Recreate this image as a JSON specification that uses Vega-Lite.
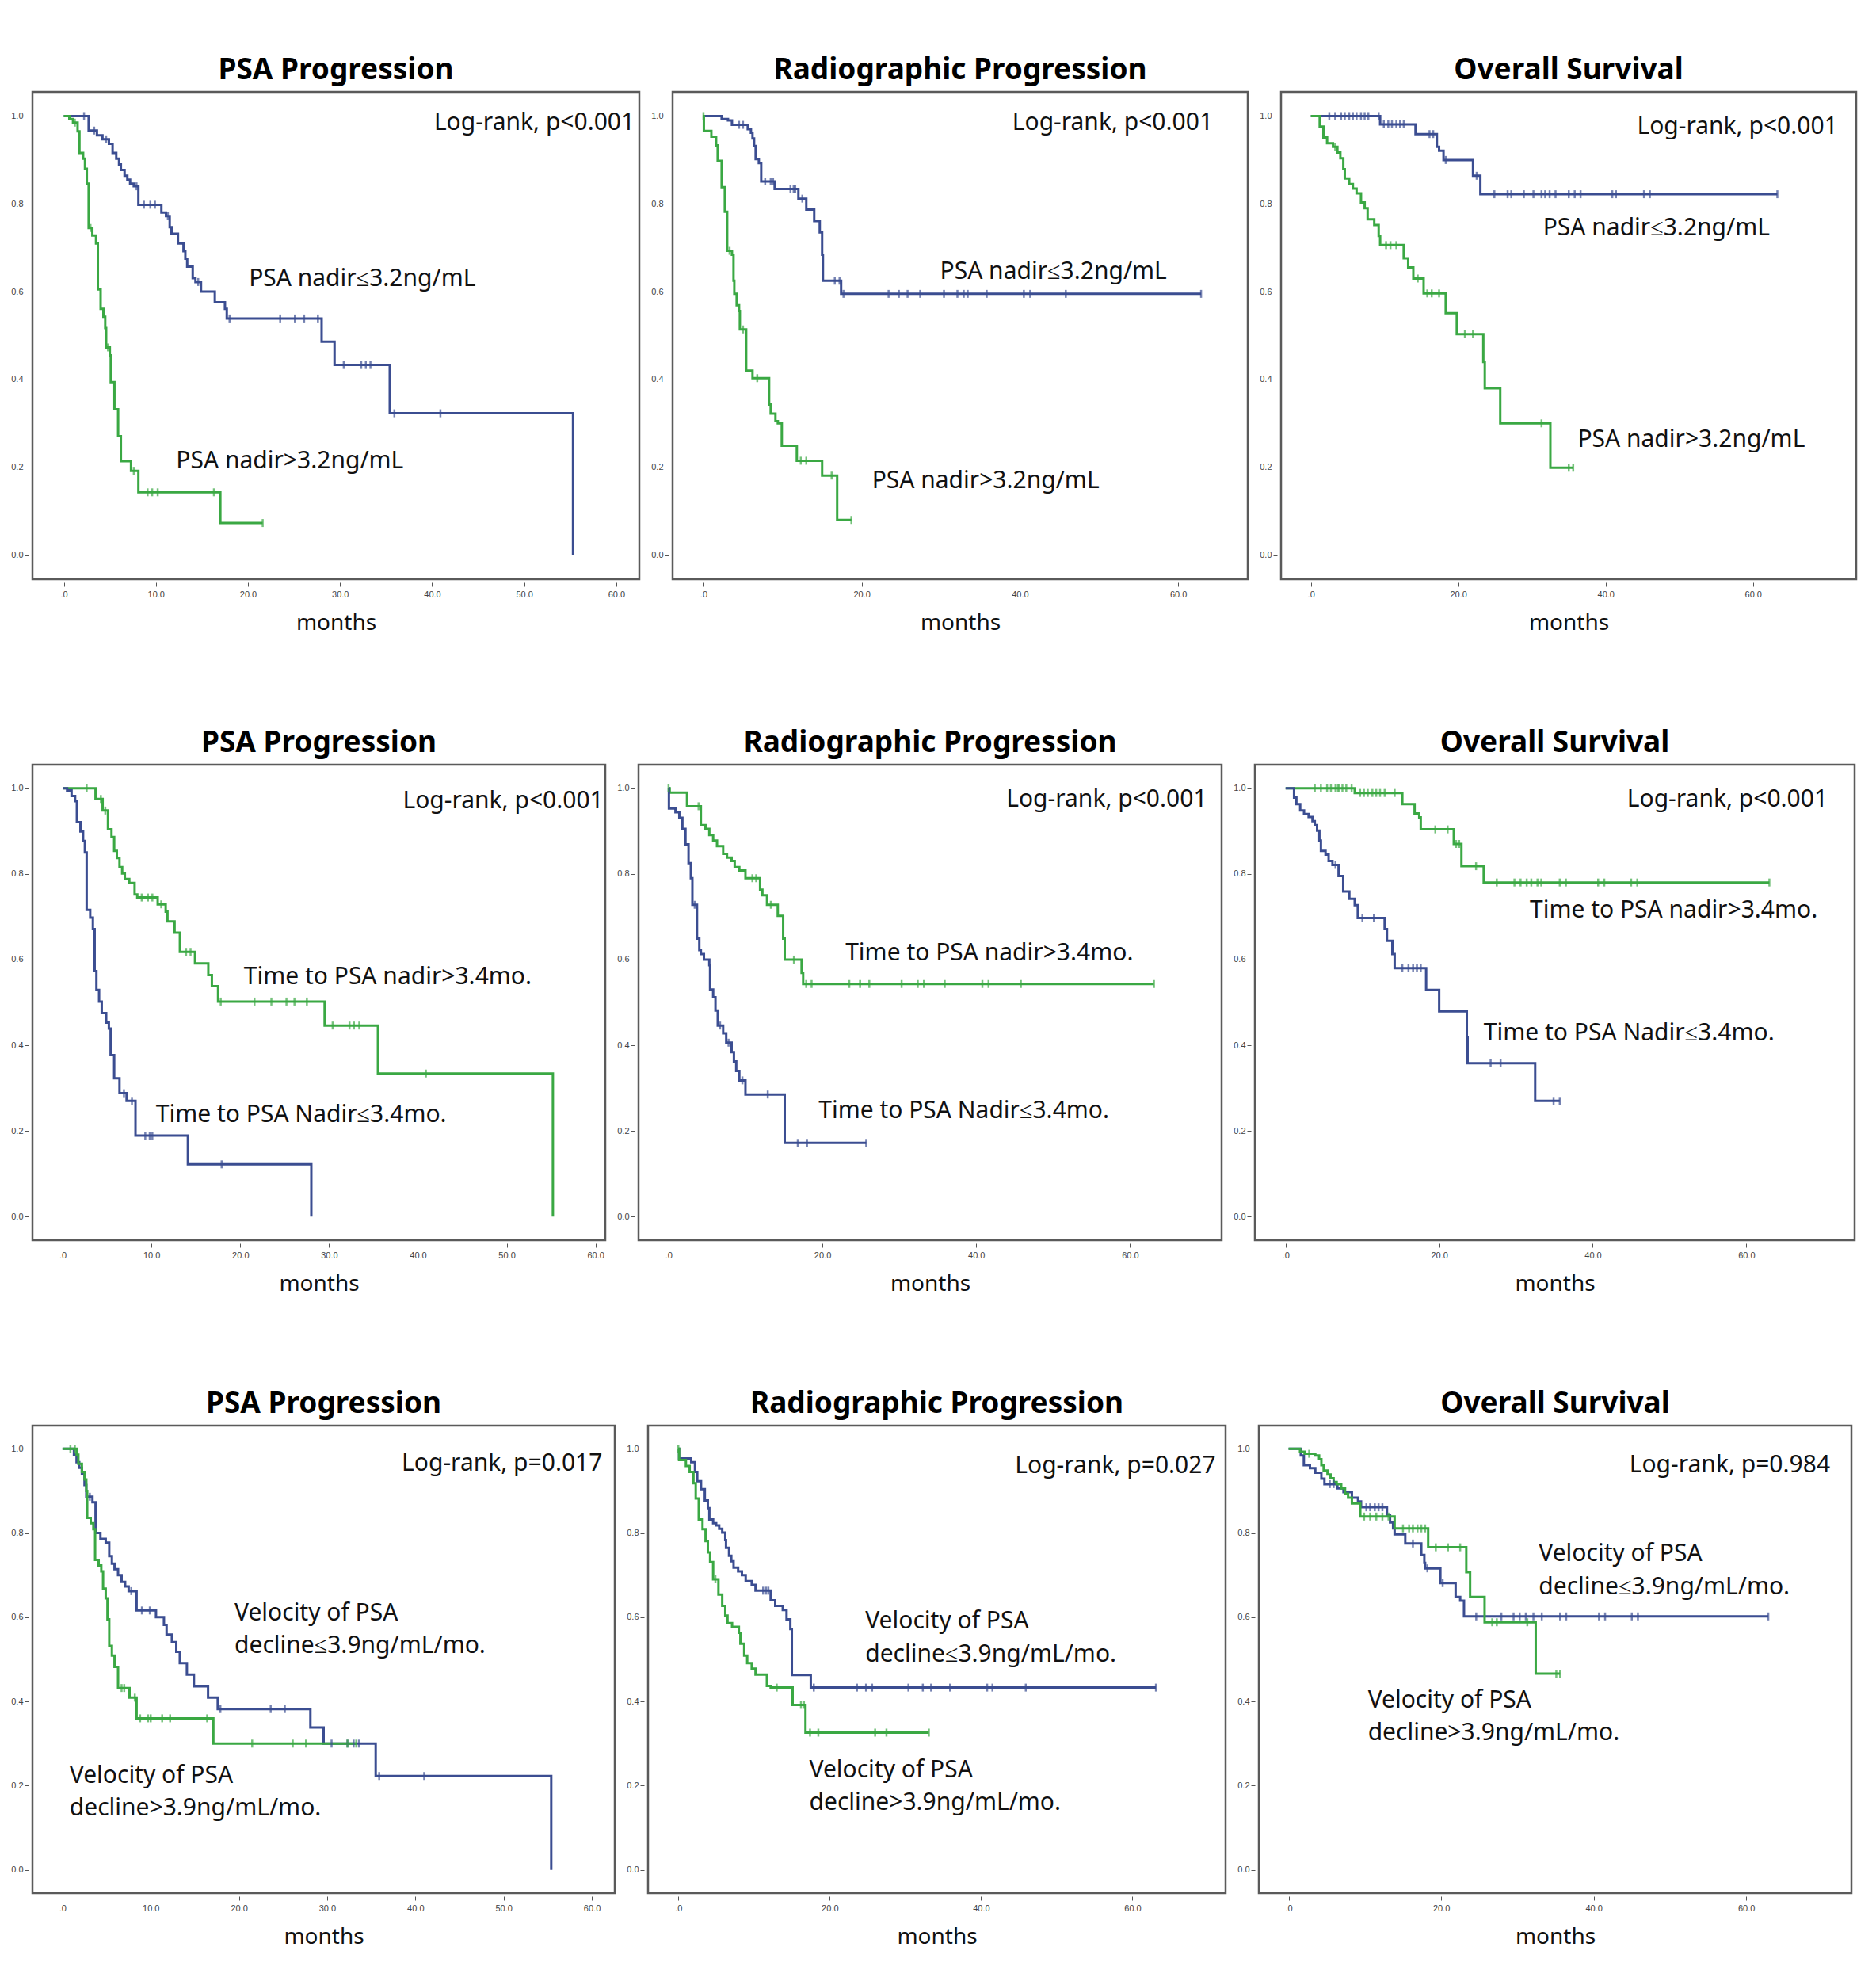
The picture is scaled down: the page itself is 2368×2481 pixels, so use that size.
{
"$schema": "https://vega.github.io/schema/vega-lite/v6.json",
"background": "white",
"padding": {"left": 12, "top": 68, "right": 10, "bottom": 0},
"config": {
  "view": {"stroke": "#5a5a5a", "strokeWidth": 2.5},
  "axis": {"grid": false, "domain": false, "tickColor": "#555555", "tickSize": 5, "labelFont": "Liberation Sans", "labelFontSize": 11, "labelColor": "#444444", "titleFont": "Noto Sans", "titleFontSize": 28, "titleFontWeight": "normal", "titleColor": "#111111"},
  "axisX": {"offset": 4, "labelPadding": 4, "titlePadding": 17},
  "axisY": {"offset": 5, "labelPadding": 2},
  "title": {"font": "Noto Sans", "fontSize": 37, "fontWeight": "bold", "color": "#000000", "offset": 8, "frame": "group"},
  "text": {"font": "Noto Sans", "fontSize": 30, "color": "#111111", "baseline": "middle"},
  "line": {"interpolate": "step-after", "strokeWidth": 3},
  "tick": {"orient": "vertical", "size": 10, "thickness": 2.5}
},
"datasets": {
"km": [
{"p":1,"g":"b","t":0,"s":1,"c":0},{"p":1,"g":"b","t":2.2,"s":1,"c":1},{"p":1,"g":"b","t":2.7,"s":0.967,"c":0},{"p":1,"g":"b","t":3.3,"s":0.967,"c":1},{"p":1,"g":"b","t":3.6,"s":0.956,"c":0},{"p":1,"g":"b","t":4.2,"s":0.947,"c":0},{"p":1,"g":"b","t":4.6,"s":0.947,"c":1},{"p":1,"g":"b","t":4.9,"s":0.937,"c":0},{"p":1,"g":"b","t":5.3,"s":0.916,"c":0},{"p":1,"g":"b","t":5.7,"s":0.903,"c":0},{"p":1,"g":"b","t":6.0,"s":0.89,"c":0},{"p":1,"g":"b","t":6.2,"s":0.877,"c":0},{"p":1,"g":"b","t":6.6,"s":0.864,"c":0},{"p":1,"g":"b","t":6.9,"s":0.855,"c":0},{"p":1,"g":"b","t":7.2,"s":0.846,"c":0},{"p":1,"g":"b","t":7.6,"s":0.84,"c":0},{"p":1,"g":"b","t":7.9,"s":0.84,"c":1},{"p":1,"g":"b","t":8.1,"s":0.798,"c":0},{"p":1,"g":"b","t":8.7,"s":0.798,"c":1},{"p":1,"g":"b","t":9.4,"s":0.798,"c":1},{"p":1,"g":"b","t":9.9,"s":0.798,"c":1},{"p":1,"g":"b","t":10.6,"s":0.78,"c":0},{"p":1,"g":"b","t":11.1,"s":0.772,"c":0},{"p":1,"g":"b","t":11.3,"s":0.772,"c":1},{"p":1,"g":"b","t":11.5,"s":0.747,"c":0},{"p":1,"g":"b","t":11.7,"s":0.732,"c":0},{"p":1,"g":"b","t":12.4,"s":0.71,"c":0},{"p":1,"g":"b","t":13.0,"s":0.692,"c":0},{"p":1,"g":"b","t":13.2,"s":0.675,"c":0},{"p":1,"g":"b","t":13.4,"s":0.657,"c":0},{"p":1,"g":"b","t":14.0,"s":0.631,"c":0},{"p":1,"g":"b","t":14.3,"s":0.622,"c":0},{"p":1,"g":"b","t":14.6,"s":0.622,"c":1},{"p":1,"g":"b","t":14.9,"s":0.6,"c":0},{"p":1,"g":"b","t":16.4,"s":0.576,"c":0},{"p":1,"g":"b","t":17.5,"s":0.561,"c":0},{"p":1,"g":"b","t":17.7,"s":0.539,"c":0},{"p":1,"g":"b","t":18.0,"s":0.539,"c":1},{"p":1,"g":"b","t":23.5,"s":0.539,"c":1},{"p":1,"g":"b","t":25.1,"s":0.539,"c":1},{"p":1,"g":"b","t":26.1,"s":0.539,"c":1},{"p":1,"g":"b","t":27.6,"s":0.539,"c":1},{"p":1,"g":"b","t":28.0,"s":0.486,"c":0},{"p":1,"g":"b","t":29.4,"s":0.433,"c":0},{"p":1,"g":"b","t":30.4,"s":0.433,"c":1},{"p":1,"g":"b","t":32.3,"s":0.433,"c":1},{"p":1,"g":"b","t":32.8,"s":0.433,"c":1},{"p":1,"g":"b","t":33.3,"s":0.433,"c":1},{"p":1,"g":"b","t":35.4,"s":0.323,"c":0},{"p":1,"g":"b","t":35.9,"s":0.323,"c":1},{"p":1,"g":"b","t":40.9,"s":0.323,"c":1},{"p":1,"g":"b","t":55.3,"s":0,"c":0},
{"p":1,"g":"g","t":0,"s":1,"c":0},{"p":1,"g":"g","t":0.6,"s":0.993,"c":0},{"p":1,"g":"g","t":1.0,"s":0.985,"c":0},{"p":1,"g":"g","t":1.2,"s":0.985,"c":1},{"p":1,"g":"g","t":1.5,"s":0.965,"c":0},{"p":1,"g":"g","t":1.7,"s":0.916,"c":0},{"p":1,"g":"g","t":2.1,"s":0.903,"c":0},{"p":1,"g":"g","t":2.3,"s":0.88,"c":0},{"p":1,"g":"g","t":2.5,"s":0.846,"c":0},{"p":1,"g":"g","t":2.7,"s":0.745,"c":0},{"p":1,"g":"g","t":2.9,"s":0.745,"c":1},{"p":1,"g":"g","t":3.1,"s":0.728,"c":0},{"p":1,"g":"g","t":3.5,"s":0.71,"c":0},{"p":1,"g":"g","t":3.7,"s":0.605,"c":0},{"p":1,"g":"g","t":4.0,"s":0.561,"c":0},{"p":1,"g":"g","t":4.3,"s":0.543,"c":0},{"p":1,"g":"g","t":4.5,"s":0.517,"c":0},{"p":1,"g":"g","t":4.6,"s":0.473,"c":0},{"p":1,"g":"g","t":4.8,"s":0.473,"c":1},{"p":1,"g":"g","t":5.0,"s":0.455,"c":0},{"p":1,"g":"g","t":5.1,"s":0.394,"c":0},{"p":1,"g":"g","t":5.5,"s":0.332,"c":0},{"p":1,"g":"g","t":5.9,"s":0.271,"c":0},{"p":1,"g":"g","t":6.2,"s":0.214,"c":0},{"p":1,"g":"g","t":7.3,"s":0.192,"c":0},{"p":1,"g":"g","t":7.6,"s":0.192,"c":1},{"p":1,"g":"g","t":8.1,"s":0.143,"c":0},{"p":1,"g":"g","t":9.1,"s":0.143,"c":1},{"p":1,"g":"g","t":9.6,"s":0.143,"c":1},{"p":1,"g":"g","t":10.2,"s":0.143,"c":1},{"p":1,"g":"g","t":16.3,"s":0.143,"c":1},{"p":1,"g":"g","t":17.0,"s":0.073,"c":0},{"p":1,"g":"g","t":21.6,"s":0.073,"c":1},

{"p":2,"g":"b","t":0,"s":1,"c":0},{"p":2,"g":"b","t":2.3,"s":0.993,"c":0},{"p":2,"g":"b","t":3.1,"s":0.99,"c":0},{"p":2,"g":"b","t":3.6,"s":0.98,"c":0},{"p":2,"g":"b","t":4.5,"s":0.98,"c":1},{"p":2,"g":"b","t":5.0,"s":0.98,"c":1},{"p":2,"g":"b","t":5.6,"s":0.97,"c":0},{"p":2,"g":"b","t":6.0,"s":0.962,"c":0},{"p":2,"g":"b","t":6.2,"s":0.949,"c":0},{"p":2,"g":"b","t":6.4,"s":0.932,"c":0},{"p":2,"g":"b","t":6.6,"s":0.902,"c":0},{"p":2,"g":"b","t":7.0,"s":0.893,"c":0},{"p":2,"g":"b","t":7.3,"s":0.851,"c":0},{"p":2,"g":"b","t":7.8,"s":0.851,"c":1},{"p":2,"g":"b","t":8.5,"s":0.851,"c":1},{"p":2,"g":"b","t":8.8,"s":0.851,"c":1},{"p":2,"g":"b","t":9.0,"s":0.834,"c":0},{"p":2,"g":"b","t":11.0,"s":0.834,"c":1},{"p":2,"g":"b","t":11.4,"s":0.834,"c":1},{"p":2,"g":"b","t":11.6,"s":0.834,"c":1},{"p":2,"g":"b","t":12.0,"s":0.812,"c":0},{"p":2,"g":"b","t":12.5,"s":0.812,"c":1},{"p":2,"g":"b","t":13.0,"s":0.787,"c":0},{"p":2,"g":"b","t":14.0,"s":0.761,"c":0},{"p":2,"g":"b","t":14.7,"s":0.735,"c":0},{"p":2,"g":"b","t":15.0,"s":0.684,"c":0},{"p":2,"g":"b","t":15.1,"s":0.625,"c":0},{"p":2,"g":"b","t":16.6,"s":0.625,"c":1},{"p":2,"g":"b","t":17.2,"s":0.625,"c":1},{"p":2,"g":"b","t":17.4,"s":0.595,"c":0},{"p":2,"g":"b","t":17.7,"s":0.595,"c":1},{"p":2,"g":"b","t":23.4,"s":0.595,"c":1},{"p":2,"g":"b","t":24.7,"s":0.595,"c":1},{"p":2,"g":"b","t":25.8,"s":0.595,"c":1},{"p":2,"g":"b","t":27.4,"s":0.595,"c":1},{"p":2,"g":"b","t":30.4,"s":0.595,"c":1},{"p":2,"g":"b","t":32.1,"s":0.595,"c":1},{"p":2,"g":"b","t":32.9,"s":0.595,"c":1},{"p":2,"g":"b","t":33.4,"s":0.595,"c":1},{"p":2,"g":"b","t":35.8,"s":0.595,"c":1},{"p":2,"g":"b","t":40.5,"s":0.595,"c":1},{"p":2,"g":"b","t":41.3,"s":0.595,"c":1},{"p":2,"g":"b","t":45.8,"s":0.595,"c":1},{"p":2,"g":"b","t":62.9,"s":0.595,"c":1},
{"p":2,"g":"g","t":0,"s":1,"c":1},{"p":2,"g":"g","t":0.05,"s":0.966,"c":0},{"p":2,"g":"g","t":1.0,"s":0.953,"c":0},{"p":2,"g":"g","t":1.6,"s":0.933,"c":0},{"p":2,"g":"g","t":1.8,"s":0.898,"c":0},{"p":2,"g":"g","t":2.3,"s":0.838,"c":0},{"p":2,"g":"g","t":2.7,"s":0.782,"c":0},{"p":2,"g":"g","t":3.0,"s":0.693,"c":0},{"p":2,"g":"g","t":3.3,"s":0.693,"c":1},{"p":2,"g":"g","t":3.6,"s":0.684,"c":0},{"p":2,"g":"g","t":3.8,"s":0.625,"c":0},{"p":2,"g":"g","t":3.9,"s":0.595,"c":0},{"p":2,"g":"g","t":4.2,"s":0.569,"c":0},{"p":2,"g":"g","t":4.5,"s":0.556,"c":0},{"p":2,"g":"g","t":4.6,"s":0.514,"c":0},{"p":2,"g":"g","t":5.0,"s":0.514,"c":1},{"p":2,"g":"g","t":5.4,"s":0.42,"c":0},{"p":2,"g":"g","t":6.2,"s":0.403,"c":0},{"p":2,"g":"g","t":6.8,"s":0.403,"c":1},{"p":2,"g":"g","t":8.3,"s":0.343,"c":0},{"p":2,"g":"g","t":8.5,"s":0.322,"c":0},{"p":2,"g":"g","t":9.1,"s":0.305,"c":0},{"p":2,"g":"g","t":9.4,"s":0.3,"c":0},{"p":2,"g":"g","t":9.9,"s":0.249,"c":0},{"p":2,"g":"g","t":11.8,"s":0.215,"c":0},{"p":2,"g":"g","t":12.3,"s":0.215,"c":1},{"p":2,"g":"g","t":13.0,"s":0.215,"c":1},{"p":2,"g":"g","t":15.0,"s":0.181,"c":0},{"p":2,"g":"g","t":16.2,"s":0.181,"c":1},{"p":2,"g":"g","t":16.9,"s":0.08,"c":0},{"p":2,"g":"g","t":18.7,"s":0.08,"c":1},

{"p":3,"g":"b","t":0,"s":1,"c":0},{"p":3,"g":"b","t":2.5,"s":1,"c":1},{"p":3,"g":"b","t":3.3,"s":1,"c":1},{"p":3,"g":"b","t":4.1,"s":1,"c":1},{"p":3,"g":"b","t":4.6,"s":1,"c":1},{"p":3,"g":"b","t":5.2,"s":1,"c":1},{"p":3,"g":"b","t":5.7,"s":1,"c":1},{"p":3,"g":"b","t":6.2,"s":1,"c":1},{"p":3,"g":"b","t":6.8,"s":1,"c":1},{"p":3,"g":"b","t":7.3,"s":1,"c":1},{"p":3,"g":"b","t":7.8,"s":1,"c":1},{"p":3,"g":"b","t":9.2,"s":1,"c":1},{"p":3,"g":"b","t":9.4,"s":0.981,"c":0},{"p":3,"g":"b","t":9.9,"s":0.981,"c":1},{"p":3,"g":"b","t":10.5,"s":0.981,"c":1},{"p":3,"g":"b","t":11.0,"s":0.981,"c":1},{"p":3,"g":"b","t":11.6,"s":0.981,"c":1},{"p":3,"g":"b","t":12.1,"s":0.981,"c":1},{"p":3,"g":"b","t":12.6,"s":0.981,"c":1},{"p":3,"g":"b","t":14.2,"s":0.959,"c":0},{"p":3,"g":"b","t":16.1,"s":0.959,"c":1},{"p":3,"g":"b","t":16.6,"s":0.959,"c":1},{"p":3,"g":"b","t":17.1,"s":0.93,"c":0},{"p":3,"g":"b","t":17.4,"s":0.921,"c":0},{"p":3,"g":"b","t":18.0,"s":0.9,"c":0},{"p":3,"g":"b","t":18.3,"s":0.9,"c":1},{"p":3,"g":"b","t":22.0,"s":0.864,"c":0},{"p":3,"g":"b","t":22.5,"s":0.864,"c":1},{"p":3,"g":"b","t":23.0,"s":0.822,"c":0},{"p":3,"g":"b","t":24.9,"s":0.822,"c":1},{"p":3,"g":"b","t":26.7,"s":0.822,"c":1},{"p":3,"g":"b","t":27.2,"s":0.822,"c":1},{"p":3,"g":"b","t":28.9,"s":0.822,"c":1},{"p":3,"g":"b","t":30.2,"s":0.822,"c":1},{"p":3,"g":"b","t":31.3,"s":0.822,"c":1},{"p":3,"g":"b","t":31.8,"s":0.822,"c":1},{"p":3,"g":"b","t":32.4,"s":0.822,"c":1},{"p":3,"g":"b","t":33.2,"s":0.822,"c":1},{"p":3,"g":"b","t":35.0,"s":0.822,"c":1},{"p":3,"g":"b","t":35.8,"s":0.822,"c":1},{"p":3,"g":"b","t":36.6,"s":0.822,"c":1},{"p":3,"g":"b","t":40.9,"s":0.822,"c":1},{"p":3,"g":"b","t":41.4,"s":0.822,"c":1},{"p":3,"g":"b","t":45.2,"s":0.822,"c":1},{"p":3,"g":"b","t":46.0,"s":0.822,"c":1},{"p":3,"g":"b","t":63.3,"s":0.822,"c":1},
{"p":3,"g":"g","t":0,"s":1,"c":0},{"p":3,"g":"g","t":1.2,"s":0.976,"c":0},{"p":3,"g":"g","t":1.7,"s":0.951,"c":0},{"p":3,"g":"g","t":2.2,"s":0.938,"c":0},{"p":3,"g":"g","t":3.0,"s":0.93,"c":0},{"p":3,"g":"g","t":3.3,"s":0.93,"c":1},{"p":3,"g":"g","t":3.6,"s":0.917,"c":0},{"p":3,"g":"g","t":4.0,"s":0.904,"c":0},{"p":3,"g":"g","t":4.4,"s":0.879,"c":0},{"p":3,"g":"g","t":4.6,"s":0.858,"c":0},{"p":3,"g":"g","t":5.2,"s":0.845,"c":0},{"p":3,"g":"g","t":5.7,"s":0.835,"c":0},{"p":3,"g":"g","t":6.2,"s":0.824,"c":0},{"p":3,"g":"g","t":6.8,"s":0.803,"c":0},{"p":3,"g":"g","t":7.3,"s":0.79,"c":0},{"p":3,"g":"g","t":7.7,"s":0.765,"c":0},{"p":3,"g":"g","t":8.6,"s":0.752,"c":0},{"p":3,"g":"g","t":9.2,"s":0.727,"c":0},{"p":3,"g":"g","t":9.4,"s":0.706,"c":0},{"p":3,"g":"g","t":10.2,"s":0.706,"c":1},{"p":3,"g":"g","t":10.8,"s":0.706,"c":1},{"p":3,"g":"g","t":11.6,"s":0.706,"c":1},{"p":3,"g":"g","t":12.6,"s":0.676,"c":0},{"p":3,"g":"g","t":13.2,"s":0.655,"c":0},{"p":3,"g":"g","t":13.9,"s":0.63,"c":0},{"p":3,"g":"g","t":14.5,"s":0.63,"c":1},{"p":3,"g":"g","t":15.3,"s":0.596,"c":0},{"p":3,"g":"g","t":15.8,"s":0.596,"c":1},{"p":3,"g":"g","t":16.4,"s":0.596,"c":1},{"p":3,"g":"g","t":17.4,"s":0.596,"c":1},{"p":3,"g":"g","t":18.3,"s":0.551,"c":0},{"p":3,"g":"g","t":19.8,"s":0.503,"c":0},{"p":3,"g":"g","t":20.9,"s":0.503,"c":1},{"p":3,"g":"g","t":22.0,"s":0.503,"c":1},{"p":3,"g":"g","t":23.4,"s":0.44,"c":0},{"p":3,"g":"g","t":23.6,"s":0.38,"c":0},{"p":3,"g":"g","t":25.7,"s":0.3,"c":0},{"p":3,"g":"g","t":31.3,"s":0.3,"c":1},{"p":3,"g":"g","t":32.5,"s":0.199,"c":0},{"p":3,"g":"g","t":35.0,"s":0.199,"c":1},{"p":3,"g":"g","t":35.6,"s":0.199,"c":1},

{"p":4,"g":"g","t":0,"s":1,"c":0},{"p":4,"g":"g","t":2.7,"s":1,"c":1},{"p":4,"g":"g","t":3.7,"s":0.975,"c":0},{"p":4,"g":"g","t":4.3,"s":0.975,"c":1},{"p":4,"g":"g","t":4.5,"s":0.948,"c":0},{"p":4,"g":"g","t":4.8,"s":0.948,"c":1},{"p":4,"g":"g","t":5.1,"s":0.904,"c":0},{"p":4,"g":"g","t":5.5,"s":0.886,"c":0},{"p":4,"g":"g","t":5.8,"s":0.854,"c":0},{"p":4,"g":"g","t":6.1,"s":0.837,"c":0},{"p":4,"g":"g","t":6.4,"s":0.816,"c":0},{"p":4,"g":"g","t":6.7,"s":0.801,"c":0},{"p":4,"g":"g","t":7.0,"s":0.788,"c":0},{"p":4,"g":"g","t":7.5,"s":0.779,"c":0},{"p":4,"g":"g","t":8.1,"s":0.752,"c":0},{"p":4,"g":"g","t":8.4,"s":0.745,"c":0},{"p":4,"g":"g","t":8.9,"s":0.745,"c":1},{"p":4,"g":"g","t":9.6,"s":0.745,"c":1},{"p":4,"g":"g","t":10.1,"s":0.745,"c":1},{"p":4,"g":"g","t":10.7,"s":0.729,"c":0},{"p":4,"g":"g","t":11.1,"s":0.729,"c":1},{"p":4,"g":"g","t":11.6,"s":0.712,"c":0},{"p":4,"g":"g","t":11.8,"s":0.689,"c":0},{"p":4,"g":"g","t":12.6,"s":0.663,"c":0},{"p":4,"g":"g","t":13.2,"s":0.618,"c":0},{"p":4,"g":"g","t":13.9,"s":0.618,"c":1},{"p":4,"g":"g","t":14.4,"s":0.618,"c":1},{"p":4,"g":"g","t":14.9,"s":0.591,"c":0},{"p":4,"g":"g","t":16.4,"s":0.564,"c":0},{"p":4,"g":"g","t":16.8,"s":0.538,"c":0},{"p":4,"g":"g","t":17.5,"s":0.502,"c":0},{"p":4,"g":"g","t":17.8,"s":0.502,"c":1},{"p":4,"g":"g","t":21.6,"s":0.502,"c":1},{"p":4,"g":"g","t":23.5,"s":0.502,"c":1},{"p":4,"g":"g","t":25.2,"s":0.502,"c":1},{"p":4,"g":"g","t":26.1,"s":0.502,"c":1},{"p":4,"g":"g","t":27.5,"s":0.502,"c":1},{"p":4,"g":"g","t":29.5,"s":0.446,"c":0},{"p":4,"g":"g","t":30.4,"s":0.446,"c":1},{"p":4,"g":"g","t":32.3,"s":0.446,"c":1},{"p":4,"g":"g","t":32.8,"s":0.446,"c":1},{"p":4,"g":"g","t":33.4,"s":0.446,"c":1},{"p":4,"g":"g","t":35.5,"s":0.334,"c":0},{"p":4,"g":"g","t":40.9,"s":0.334,"c":1},{"p":4,"g":"g","t":55.2,"s":0,"c":0},
{"p":4,"g":"b","t":0,"s":1,"c":0},{"p":4,"g":"b","t":0.5,"s":0.995,"c":0},{"p":4,"g":"b","t":1.0,"s":0.982,"c":0},{"p":4,"g":"b","t":1.4,"s":0.97,"c":0},{"p":4,"g":"b","t":1.6,"s":0.921,"c":0},{"p":4,"g":"b","t":2.0,"s":0.899,"c":0},{"p":4,"g":"b","t":2.3,"s":0.877,"c":0},{"p":4,"g":"b","t":2.5,"s":0.85,"c":0},{"p":4,"g":"b","t":2.7,"s":0.716,"c":0},{"p":4,"g":"b","t":3.1,"s":0.698,"c":0},{"p":4,"g":"b","t":3.4,"s":0.671,"c":0},{"p":4,"g":"b","t":3.6,"s":0.573,"c":0},{"p":4,"g":"b","t":3.8,"s":0.529,"c":0},{"p":4,"g":"b","t":4.1,"s":0.502,"c":0},{"p":4,"g":"b","t":4.4,"s":0.475,"c":0},{"p":4,"g":"b","t":4.9,"s":0.453,"c":0},{"p":4,"g":"b","t":5.2,"s":0.439,"c":0},{"p":4,"g":"b","t":5.4,"s":0.377,"c":0},{"p":4,"g":"b","t":5.8,"s":0.323,"c":0},{"p":4,"g":"b","t":6.4,"s":0.288,"c":0},{"p":4,"g":"b","t":6.9,"s":0.288,"c":1},{"p":4,"g":"b","t":7.2,"s":0.27,"c":0},{"p":4,"g":"b","t":7.8,"s":0.27,"c":1},{"p":4,"g":"b","t":8.2,"s":0.189,"c":0},{"p":4,"g":"b","t":9.3,"s":0.189,"c":1},{"p":4,"g":"b","t":9.8,"s":0.189,"c":1},{"p":4,"g":"b","t":10.1,"s":0.189,"c":1},{"p":4,"g":"b","t":14.1,"s":0.122,"c":0},{"p":4,"g":"b","t":17.9,"s":0.122,"c":1},{"p":4,"g":"b","t":28.0,"s":0,"c":0},

{"p":5,"g":"g","t":0,"s":1,"c":1},{"p":5,"g":"g","t":0.15,"s":0.99,"c":0},{"p":5,"g":"g","t":2.4,"s":0.958,"c":0},{"p":5,"g":"g","t":3.9,"s":0.958,"c":1},{"p":5,"g":"g","t":4.2,"s":0.914,"c":0},{"p":5,"g":"g","t":4.8,"s":0.905,"c":0},{"p":5,"g":"g","t":5.3,"s":0.891,"c":0},{"p":5,"g":"g","t":5.8,"s":0.878,"c":0},{"p":5,"g":"g","t":6.3,"s":0.865,"c":0},{"p":5,"g":"g","t":7.1,"s":0.847,"c":0},{"p":5,"g":"g","t":7.6,"s":0.838,"c":0},{"p":5,"g":"g","t":8.2,"s":0.83,"c":0},{"p":5,"g":"g","t":8.6,"s":0.816,"c":0},{"p":5,"g":"g","t":9.2,"s":0.808,"c":0},{"p":5,"g":"g","t":10.0,"s":0.79,"c":0},{"p":5,"g":"g","t":10.9,"s":0.79,"c":1},{"p":5,"g":"g","t":11.4,"s":0.79,"c":1},{"p":5,"g":"g","t":11.9,"s":0.763,"c":0},{"p":5,"g":"g","t":12.2,"s":0.75,"c":0},{"p":5,"g":"g","t":12.8,"s":0.728,"c":0},{"p":5,"g":"g","t":13.3,"s":0.728,"c":1},{"p":5,"g":"g","t":14.2,"s":0.702,"c":0},{"p":5,"g":"g","t":14.9,"s":0.649,"c":0},{"p":5,"g":"g","t":15.1,"s":0.6,"c":0},{"p":5,"g":"g","t":16.3,"s":0.6,"c":1},{"p":5,"g":"g","t":17.3,"s":0.569,"c":0},{"p":5,"g":"g","t":17.5,"s":0.543,"c":0},{"p":5,"g":"g","t":17.9,"s":0.543,"c":1},{"p":5,"g":"g","t":18.6,"s":0.543,"c":1},{"p":5,"g":"g","t":23.5,"s":0.543,"c":1},{"p":5,"g":"g","t":24.9,"s":0.543,"c":1},{"p":5,"g":"g","t":26.1,"s":0.543,"c":1},{"p":5,"g":"g","t":30.3,"s":0.543,"c":1},{"p":5,"g":"g","t":32.4,"s":0.543,"c":1},{"p":5,"g":"g","t":33.2,"s":0.543,"c":1},{"p":5,"g":"g","t":35.9,"s":0.543,"c":1},{"p":5,"g":"g","t":40.8,"s":0.543,"c":1},{"p":5,"g":"g","t":41.6,"s":0.543,"c":1},{"p":5,"g":"g","t":45.8,"s":0.543,"c":1},{"p":5,"g":"g","t":63.1,"s":0.543,"c":1},
{"p":5,"g":"b","t":0,"s":1,"c":0},{"p":5,"g":"b","t":0.05,"s":0.953,"c":0},{"p":5,"g":"b","t":0.9,"s":0.944,"c":0},{"p":5,"g":"b","t":1.4,"s":0.931,"c":0},{"p":5,"g":"b","t":1.8,"s":0.905,"c":0},{"p":5,"g":"b","t":2.2,"s":0.869,"c":0},{"p":5,"g":"b","t":2.6,"s":0.825,"c":0},{"p":5,"g":"b","t":2.9,"s":0.79,"c":0},{"p":5,"g":"b","t":3.1,"s":0.728,"c":0},{"p":5,"g":"b","t":3.4,"s":0.728,"c":1},{"p":5,"g":"b","t":3.7,"s":0.649,"c":0},{"p":5,"g":"b","t":4.0,"s":0.622,"c":0},{"p":5,"g":"b","t":4.2,"s":0.613,"c":0},{"p":5,"g":"b","t":4.6,"s":0.6,"c":0},{"p":5,"g":"b","t":5.3,"s":0.587,"c":0},{"p":5,"g":"b","t":5.4,"s":0.53,"c":0},{"p":5,"g":"b","t":5.8,"s":0.512,"c":0},{"p":5,"g":"b","t":6.1,"s":0.481,"c":0},{"p":5,"g":"b","t":6.4,"s":0.446,"c":0},{"p":5,"g":"b","t":6.7,"s":0.446,"c":1},{"p":5,"g":"b","t":7.1,"s":0.428,"c":0},{"p":5,"g":"b","t":7.5,"s":0.406,"c":0},{"p":5,"g":"b","t":7.8,"s":0.406,"c":1},{"p":5,"g":"b","t":8.2,"s":0.384,"c":0},{"p":5,"g":"b","t":8.5,"s":0.362,"c":0},{"p":5,"g":"b","t":8.8,"s":0.34,"c":0},{"p":5,"g":"b","t":9.2,"s":0.318,"c":0},{"p":5,"g":"b","t":9.6,"s":0.318,"c":1},{"p":5,"g":"b","t":10.0,"s":0.285,"c":0},{"p":5,"g":"b","t":12.9,"s":0.285,"c":1},{"p":5,"g":"b","t":15.1,"s":0.172,"c":0},{"p":5,"g":"b","t":16.8,"s":0.172,"c":1},{"p":5,"g":"b","t":18.0,"s":0.172,"c":1},{"p":5,"g":"b","t":25.7,"s":0.172,"c":1},

{"p":6,"g":"g","t":0,"s":1,"c":0},{"p":6,"g":"g","t":3.8,"s":1,"c":1},{"p":6,"g":"g","t":4.6,"s":1,"c":1},{"p":6,"g":"g","t":5.4,"s":1,"c":1},{"p":6,"g":"g","t":5.9,"s":1,"c":1},{"p":6,"g":"g","t":6.5,"s":1,"c":1},{"p":6,"g":"g","t":6.8,"s":1,"c":1},{"p":6,"g":"g","t":7.0,"s":1,"c":1},{"p":6,"g":"g","t":7.4,"s":1,"c":1},{"p":6,"g":"g","t":7.9,"s":1,"c":1},{"p":6,"g":"g","t":8.6,"s":1,"c":1},{"p":6,"g":"g","t":9.0,"s":0.989,"c":0},{"p":6,"g":"g","t":9.7,"s":0.989,"c":1},{"p":6,"g":"g","t":10.2,"s":0.989,"c":1},{"p":6,"g":"g","t":10.7,"s":0.989,"c":1},{"p":6,"g":"g","t":11.3,"s":0.989,"c":1},{"p":6,"g":"g","t":11.8,"s":0.989,"c":1},{"p":6,"g":"g","t":12.3,"s":0.989,"c":1},{"p":6,"g":"g","t":12.9,"s":0.989,"c":1},{"p":6,"g":"g","t":14.2,"s":0.989,"c":1},{"p":6,"g":"g","t":15.2,"s":0.963,"c":0},{"p":6,"g":"g","t":16.8,"s":0.941,"c":0},{"p":6,"g":"g","t":17.4,"s":0.932,"c":0},{"p":6,"g":"g","t":17.6,"s":0.904,"c":0},{"p":6,"g":"g","t":19.5,"s":0.904,"c":1},{"p":6,"g":"g","t":21.1,"s":0.904,"c":1},{"p":6,"g":"g","t":21.9,"s":0.87,"c":0},{"p":6,"g":"g","t":22.2,"s":0.87,"c":1},{"p":6,"g":"g","t":22.6,"s":0.87,"c":1},{"p":6,"g":"g","t":22.9,"s":0.818,"c":0},{"p":6,"g":"g","t":24.8,"s":0.818,"c":1},{"p":6,"g":"g","t":25.8,"s":0.78,"c":0},{"p":6,"g":"g","t":27.5,"s":0.78,"c":1},{"p":6,"g":"g","t":29.8,"s":0.78,"c":1},{"p":6,"g":"g","t":30.6,"s":0.78,"c":1},{"p":6,"g":"g","t":31.4,"s":0.78,"c":1},{"p":6,"g":"g","t":32.0,"s":0.78,"c":1},{"p":6,"g":"g","t":32.8,"s":0.78,"c":1},{"p":6,"g":"g","t":33.3,"s":0.78,"c":1},{"p":6,"g":"g","t":35.7,"s":0.78,"c":1},{"p":6,"g":"g","t":36.5,"s":0.78,"c":1},{"p":6,"g":"g","t":40.7,"s":0.78,"c":1},{"p":6,"g":"g","t":41.5,"s":0.78,"c":1},{"p":6,"g":"g","t":45.0,"s":0.78,"c":1},{"p":6,"g":"g","t":45.8,"s":0.78,"c":1},{"p":6,"g":"g","t":63.0,"s":0.78,"c":1},
{"p":6,"g":"b","t":0,"s":1,"c":0},{"p":6,"g":"b","t":1.1,"s":0.978,"c":0},{"p":6,"g":"b","t":1.4,"s":0.963,"c":0},{"p":6,"g":"b","t":1.9,"s":0.948,"c":0},{"p":6,"g":"b","t":2.4,"s":0.94,"c":0},{"p":6,"g":"b","t":3.0,"s":0.933,"c":0},{"p":6,"g":"b","t":3.5,"s":0.923,"c":0},{"p":6,"g":"b","t":3.8,"s":0.914,"c":0},{"p":6,"g":"b","t":4.1,"s":0.901,"c":0},{"p":6,"g":"b","t":4.4,"s":0.878,"c":0},{"p":6,"g":"b","t":4.6,"s":0.854,"c":0},{"p":6,"g":"b","t":5.2,"s":0.845,"c":0},{"p":6,"g":"b","t":5.6,"s":0.83,"c":0},{"p":6,"g":"b","t":6.1,"s":0.821,"c":0},{"p":6,"g":"b","t":6.5,"s":0.821,"c":1},{"p":6,"g":"b","t":6.9,"s":0.795,"c":0},{"p":6,"g":"b","t":7.5,"s":0.759,"c":0},{"p":6,"g":"b","t":8.3,"s":0.742,"c":0},{"p":6,"g":"b","t":9.0,"s":0.727,"c":0},{"p":6,"g":"b","t":9.4,"s":0.697,"c":0},{"p":6,"g":"b","t":10.0,"s":0.697,"c":1},{"p":6,"g":"b","t":11.5,"s":0.697,"c":1},{"p":6,"g":"b","t":12.9,"s":0.671,"c":0},{"p":6,"g":"b","t":13.2,"s":0.644,"c":0},{"p":6,"g":"b","t":13.9,"s":0.613,"c":0},{"p":6,"g":"b","t":14.2,"s":0.58,"c":0},{"p":6,"g":"b","t":15.2,"s":0.58,"c":1},{"p":6,"g":"b","t":16.0,"s":0.58,"c":1},{"p":6,"g":"b","t":16.6,"s":0.58,"c":1},{"p":6,"g":"b","t":17.1,"s":0.58,"c":1},{"p":6,"g":"b","t":17.6,"s":0.58,"c":1},{"p":6,"g":"b","t":18.3,"s":0.529,"c":0},{"p":6,"g":"b","t":20.0,"s":0.479,"c":0},{"p":6,"g":"b","t":23.6,"s":0.419,"c":0},{"p":6,"g":"b","t":23.7,"s":0.358,"c":0},{"p":6,"g":"b","t":26.7,"s":0.358,"c":1},{"p":6,"g":"b","t":28.0,"s":0.358,"c":1},{"p":6,"g":"b","t":32.5,"s":0.27,"c":0},{"p":6,"g":"b","t":34.9,"s":0.27,"c":1},{"p":6,"g":"b","t":35.7,"s":0.27,"c":1},

{"p":7,"g":"b","t":0,"s":1,"c":0},{"p":7,"g":"b","t":1.3,"s":0.986,"c":0},{"p":7,"g":"b","t":1.6,"s":0.968,"c":0},{"p":7,"g":"b","t":1.9,"s":0.955,"c":0},{"p":7,"g":"b","t":2.2,"s":0.941,"c":0},{"p":7,"g":"b","t":2.5,"s":0.914,"c":0},{"p":7,"g":"b","t":2.7,"s":0.886,"c":0},{"p":7,"g":"b","t":3.1,"s":0.886,"c":1},{"p":7,"g":"b","t":3.4,"s":0.873,"c":0},{"p":7,"g":"b","t":3.75,"s":0.8,"c":0},{"p":7,"g":"b","t":4.3,"s":0.786,"c":0},{"p":7,"g":"b","t":4.9,"s":0.777,"c":0},{"p":7,"g":"b","t":5.3,"s":0.745,"c":0},{"p":7,"g":"b","t":5.6,"s":0.727,"c":0},{"p":7,"g":"b","t":5.9,"s":0.714,"c":0},{"p":7,"g":"b","t":6.3,"s":0.7,"c":0},{"p":7,"g":"b","t":6.7,"s":0.684,"c":0},{"p":7,"g":"b","t":7.1,"s":0.673,"c":0},{"p":7,"g":"b","t":7.5,"s":0.662,"c":0},{"p":7,"g":"b","t":7.8,"s":0.662,"c":1},{"p":7,"g":"b","t":8.4,"s":0.616,"c":0},{"p":7,"g":"b","t":9.0,"s":0.616,"c":1},{"p":7,"g":"b","t":9.9,"s":0.616,"c":1},{"p":7,"g":"b","t":10.6,"s":0.6,"c":0},{"p":7,"g":"b","t":11.5,"s":0.582,"c":0},{"p":7,"g":"b","t":11.8,"s":0.559,"c":0},{"p":7,"g":"b","t":12.4,"s":0.541,"c":0},{"p":7,"g":"b","t":12.9,"s":0.518,"c":0},{"p":7,"g":"b","t":13.3,"s":0.491,"c":0},{"p":7,"g":"b","t":14.1,"s":0.464,"c":0},{"p":7,"g":"b","t":14.9,"s":0.436,"c":0},{"p":7,"g":"b","t":16.5,"s":0.409,"c":0},{"p":7,"g":"b","t":17.6,"s":0.382,"c":0},{"p":7,"g":"b","t":17.9,"s":0.382,"c":1},{"p":7,"g":"b","t":23.6,"s":0.382,"c":1},{"p":7,"g":"b","t":25.2,"s":0.382,"c":1},{"p":7,"g":"b","t":28.1,"s":0.338,"c":0},{"p":7,"g":"b","t":29.6,"s":0.3,"c":0},{"p":7,"g":"b","t":30.5,"s":0.3,"c":1},{"p":7,"g":"b","t":32.3,"s":0.3,"c":1},{"p":7,"g":"b","t":33.0,"s":0.3,"c":1},{"p":7,"g":"b","t":33.6,"s":0.3,"c":1},{"p":7,"g":"b","t":35.5,"s":0.223,"c":0},{"p":7,"g":"b","t":35.9,"s":0.223,"c":1},{"p":7,"g":"b","t":41.0,"s":0.223,"c":1},{"p":7,"g":"b","t":55.4,"s":0,"c":0},
{"p":7,"g":"g","t":0,"s":1,"c":0},{"p":7,"g":"g","t":0.9,"s":1,"c":1},{"p":7,"g":"g","t":1.4,"s":1,"c":1},{"p":7,"g":"g","t":1.6,"s":0.986,"c":0},{"p":7,"g":"g","t":1.8,"s":0.964,"c":0},{"p":7,"g":"g","t":2.2,"s":0.945,"c":0},{"p":7,"g":"g","t":2.5,"s":0.927,"c":0},{"p":7,"g":"g","t":2.7,"s":0.9,"c":0},{"p":7,"g":"g","t":2.8,"s":0.836,"c":0},{"p":7,"g":"g","t":3.2,"s":0.823,"c":0},{"p":7,"g":"g","t":3.5,"s":0.809,"c":0},{"p":7,"g":"g","t":3.7,"s":0.736,"c":0},{"p":7,"g":"g","t":4.1,"s":0.723,"c":0},{"p":7,"g":"g","t":4.4,"s":0.709,"c":0},{"p":7,"g":"g","t":4.6,"s":0.668,"c":0},{"p":7,"g":"g","t":4.9,"s":0.645,"c":0},{"p":7,"g":"g","t":5.1,"s":0.595,"c":0},{"p":7,"g":"g","t":5.3,"s":0.532,"c":0},{"p":7,"g":"g","t":5.6,"s":0.509,"c":0},{"p":7,"g":"g","t":5.9,"s":0.482,"c":0},{"p":7,"g":"g","t":6.3,"s":0.432,"c":0},{"p":7,"g":"g","t":6.7,"s":0.432,"c":1},{"p":7,"g":"g","t":7.0,"s":0.432,"c":1},{"p":7,"g":"g","t":7.6,"s":0.409,"c":0},{"p":7,"g":"g","t":8.2,"s":0.409,"c":1},{"p":7,"g":"g","t":8.4,"s":0.36,"c":0},{"p":7,"g":"g","t":8.8,"s":0.36,"c":1},{"p":7,"g":"g","t":9.7,"s":0.36,"c":1},{"p":7,"g":"g","t":10.0,"s":0.36,"c":1},{"p":7,"g":"g","t":11.3,"s":0.36,"c":1},{"p":7,"g":"g","t":12.2,"s":0.36,"c":1},{"p":7,"g":"g","t":16.4,"s":0.36,"c":1},{"p":7,"g":"g","t":17.1,"s":0.3,"c":0},{"p":7,"g":"g","t":21.5,"s":0.3,"c":1},{"p":7,"g":"g","t":26.1,"s":0.3,"c":1},{"p":7,"g":"g","t":27.6,"s":0.3,"c":1},{"p":7,"g":"g","t":32.3,"s":0.3,"c":1},{"p":7,"g":"g","t":33.3,"s":0.3,"c":1},

{"p":8,"g":"b","t":0,"s":1,"c":0},{"p":8,"g":"b","t":0.1,"s":0.977,"c":0},{"p":8,"g":"b","t":1.7,"s":0.968,"c":0},{"p":8,"g":"b","t":2.2,"s":0.945,"c":0},{"p":8,"g":"b","t":2.5,"s":0.923,"c":0},{"p":8,"g":"b","t":3.0,"s":0.904,"c":0},{"p":8,"g":"b","t":3.5,"s":0.877,"c":0},{"p":8,"g":"b","t":3.9,"s":0.859,"c":0},{"p":8,"g":"b","t":4.1,"s":0.832,"c":0},{"p":8,"g":"b","t":4.6,"s":0.823,"c":0},{"p":8,"g":"b","t":5.0,"s":0.818,"c":0},{"p":8,"g":"b","t":5.4,"s":0.81,"c":0},{"p":8,"g":"b","t":5.8,"s":0.801,"c":0},{"p":8,"g":"b","t":6.2,"s":0.783,"c":0},{"p":8,"g":"b","t":6.3,"s":0.765,"c":0},{"p":8,"g":"b","t":6.7,"s":0.746,"c":0},{"p":8,"g":"b","t":7.0,"s":0.733,"c":0},{"p":8,"g":"b","t":7.3,"s":0.718,"c":0},{"p":8,"g":"b","t":7.9,"s":0.709,"c":0},{"p":8,"g":"b","t":8.4,"s":0.7,"c":0},{"p":8,"g":"b","t":8.9,"s":0.686,"c":0},{"p":8,"g":"b","t":9.7,"s":0.677,"c":0},{"p":8,"g":"b","t":10.2,"s":0.663,"c":0},{"p":8,"g":"b","t":11.2,"s":0.663,"c":1},{"p":8,"g":"b","t":11.6,"s":0.663,"c":1},{"p":8,"g":"b","t":11.9,"s":0.663,"c":1},{"p":8,"g":"b","t":12.2,"s":0.64,"c":0},{"p":8,"g":"b","t":12.8,"s":0.627,"c":0},{"p":8,"g":"b","t":13.8,"s":0.617,"c":0},{"p":8,"g":"b","t":14.3,"s":0.595,"c":0},{"p":8,"g":"b","t":14.8,"s":0.572,"c":0},{"p":8,"g":"b","t":15.0,"s":0.463,"c":0},{"p":8,"g":"b","t":17.5,"s":0.433,"c":0},{"p":8,"g":"b","t":17.9,"s":0.433,"c":1},{"p":8,"g":"b","t":23.6,"s":0.433,"c":1},{"p":8,"g":"b","t":24.8,"s":0.433,"c":1},{"p":8,"g":"b","t":25.6,"s":0.433,"c":1},{"p":8,"g":"b","t":30.4,"s":0.433,"c":1},{"p":8,"g":"b","t":32.3,"s":0.433,"c":1},{"p":8,"g":"b","t":33.4,"s":0.433,"c":1},{"p":8,"g":"b","t":35.9,"s":0.433,"c":1},{"p":8,"g":"b","t":40.8,"s":0.433,"c":1},{"p":8,"g":"b","t":41.5,"s":0.433,"c":1},{"p":8,"g":"b","t":45.9,"s":0.433,"c":1},{"p":8,"g":"b","t":63.1,"s":0.433,"c":1},
{"p":8,"g":"g","t":0,"s":1,"c":1},{"p":8,"g":"g","t":0.1,"s":0.973,"c":0},{"p":8,"g":"g","t":1.0,"s":0.959,"c":0},{"p":8,"g":"g","t":1.5,"s":0.945,"c":0},{"p":8,"g":"g","t":2.0,"s":0.918,"c":0},{"p":8,"g":"g","t":2.3,"s":0.882,"c":0},{"p":8,"g":"g","t":2.7,"s":0.832,"c":0},{"p":8,"g":"g","t":3.2,"s":0.809,"c":0},{"p":8,"g":"g","t":3.6,"s":0.781,"c":0},{"p":8,"g":"g","t":3.9,"s":0.754,"c":0},{"p":8,"g":"g","t":4.2,"s":0.731,"c":0},{"p":8,"g":"g","t":4.6,"s":0.69,"c":0},{"p":8,"g":"g","t":4.9,"s":0.69,"c":1},{"p":8,"g":"g","t":5.3,"s":0.654,"c":0},{"p":8,"g":"g","t":5.8,"s":0.627,"c":0},{"p":8,"g":"g","t":6.2,"s":0.604,"c":0},{"p":8,"g":"g","t":6.5,"s":0.586,"c":0},{"p":8,"g":"g","t":7.1,"s":0.577,"c":0},{"p":8,"g":"g","t":8.0,"s":0.563,"c":0},{"p":8,"g":"g","t":8.2,"s":0.537,"c":0},{"p":8,"g":"g","t":8.7,"s":0.509,"c":0},{"p":8,"g":"g","t":9.1,"s":0.491,"c":0},{"p":8,"g":"g","t":9.7,"s":0.478,"c":0},{"p":8,"g":"g","t":10.2,"s":0.464,"c":0},{"p":8,"g":"g","t":11.7,"s":0.437,"c":0},{"p":8,"g":"g","t":12.2,"s":0.433,"c":0},{"p":8,"g":"g","t":13.0,"s":0.433,"c":1},{"p":8,"g":"g","t":15.1,"s":0.392,"c":0},{"p":8,"g":"g","t":16.2,"s":0.392,"c":1},{"p":8,"g":"g","t":16.6,"s":0.392,"c":1},{"p":8,"g":"g","t":16.8,"s":0.326,"c":0},{"p":8,"g":"g","t":17.4,"s":0.326,"c":1},{"p":8,"g":"g","t":18.5,"s":0.326,"c":1},{"p":8,"g":"g","t":26.0,"s":0.326,"c":1},{"p":8,"g":"g","t":27.5,"s":0.326,"c":1},{"p":8,"g":"g","t":33.1,"s":0.326,"c":1},

{"p":9,"g":"b","t":0,"s":1,"c":0},{"p":9,"g":"b","t":1.6,"s":0.984,"c":0},{"p":9,"g":"b","t":2.0,"s":0.961,"c":0},{"p":9,"g":"b","t":2.8,"s":0.954,"c":0},{"p":9,"g":"b","t":3.5,"s":0.943,"c":0},{"p":9,"g":"b","t":4.3,"s":0.929,"c":0},{"p":9,"g":"b","t":4.7,"s":0.916,"c":0},{"p":9,"g":"b","t":5.4,"s":0.916,"c":1},{"p":9,"g":"b","t":5.9,"s":0.916,"c":1},{"p":9,"g":"b","t":6.4,"s":0.906,"c":0},{"p":9,"g":"b","t":7.2,"s":0.897,"c":0},{"p":9,"g":"b","t":8.3,"s":0.884,"c":0},{"p":9,"g":"b","t":9.1,"s":0.875,"c":0},{"p":9,"g":"b","t":9.5,"s":0.861,"c":0},{"p":9,"g":"b","t":10.2,"s":0.861,"c":1},{"p":9,"g":"b","t":10.7,"s":0.861,"c":1},{"p":9,"g":"b","t":11.3,"s":0.861,"c":1},{"p":9,"g":"b","t":11.8,"s":0.861,"c":1},{"p":9,"g":"b","t":12.3,"s":0.861,"c":1},{"p":9,"g":"b","t":12.9,"s":0.843,"c":0},{"p":9,"g":"b","t":13.3,"s":0.825,"c":0},{"p":9,"g":"b","t":13.7,"s":0.811,"c":0},{"p":9,"g":"b","t":13.9,"s":0.797,"c":0},{"p":9,"g":"b","t":15.3,"s":0.775,"c":0},{"p":9,"g":"b","t":16.3,"s":0.775,"c":1},{"p":9,"g":"b","t":17.4,"s":0.748,"c":0},{"p":9,"g":"b","t":17.8,"s":0.729,"c":0},{"p":9,"g":"b","t":17.9,"s":0.716,"c":0},{"p":9,"g":"b","t":18.2,"s":0.716,"c":1},{"p":9,"g":"b","t":19.9,"s":0.681,"c":0},{"p":9,"g":"b","t":20.2,"s":0.681,"c":1},{"p":9,"g":"b","t":21.9,"s":0.648,"c":0},{"p":9,"g":"b","t":22.5,"s":0.639,"c":0},{"p":9,"g":"b","t":23.0,"s":0.602,"c":0},{"p":9,"g":"b","t":24.6,"s":0.602,"c":1},{"p":9,"g":"b","t":27.9,"s":0.602,"c":1},{"p":9,"g":"b","t":29.5,"s":0.602,"c":1},{"p":9,"g":"b","t":30.3,"s":0.602,"c":1},{"p":9,"g":"b","t":31.1,"s":0.602,"c":1},{"p":9,"g":"b","t":32.1,"s":0.602,"c":1},{"p":9,"g":"b","t":33.2,"s":0.602,"c":1},{"p":9,"g":"b","t":35.6,"s":0.602,"c":1},{"p":9,"g":"b","t":36.4,"s":0.602,"c":1},{"p":9,"g":"b","t":40.7,"s":0.602,"c":1},{"p":9,"g":"b","t":41.5,"s":0.602,"c":1},{"p":9,"g":"b","t":45.0,"s":0.602,"c":1},{"p":9,"g":"b","t":45.8,"s":0.602,"c":1},{"p":9,"g":"b","t":62.9,"s":0.602,"c":1},
{"p":9,"g":"g","t":0,"s":1,"c":0},{"p":9,"g":"g","t":1.5,"s":0.993,"c":0},{"p":9,"g":"g","t":2.1,"s":0.988,"c":0},{"p":9,"g":"g","t":2.7,"s":0.988,"c":1},{"p":9,"g":"g","t":3.5,"s":0.984,"c":0},{"p":9,"g":"g","t":4.0,"s":0.975,"c":0},{"p":9,"g":"g","t":4.3,"s":0.961,"c":0},{"p":9,"g":"g","t":4.6,"s":0.948,"c":0},{"p":9,"g":"g","t":5.1,"s":0.939,"c":0},{"p":9,"g":"g","t":5.5,"s":0.93,"c":0},{"p":9,"g":"g","t":5.9,"s":0.921,"c":0},{"p":9,"g":"g","t":6.3,"s":0.916,"c":0},{"p":9,"g":"g","t":6.9,"s":0.906,"c":0},{"p":9,"g":"g","t":7.4,"s":0.893,"c":0},{"p":9,"g":"g","t":7.8,"s":0.884,"c":0},{"p":9,"g":"g","t":8.3,"s":0.87,"c":0},{"p":9,"g":"g","t":9.4,"s":0.839,"c":0},{"p":9,"g":"g","t":9.9,"s":0.839,"c":1},{"p":9,"g":"g","t":10.7,"s":0.839,"c":1},{"p":9,"g":"g","t":11.5,"s":0.839,"c":1},{"p":9,"g":"g","t":12.3,"s":0.839,"c":1},{"p":9,"g":"g","t":13.1,"s":0.839,"c":1},{"p":9,"g":"g","t":13.9,"s":0.811,"c":0},{"p":9,"g":"g","t":15.0,"s":0.811,"c":1},{"p":9,"g":"g","t":15.8,"s":0.811,"c":1},{"p":9,"g":"g","t":16.3,"s":0.811,"c":1},{"p":9,"g":"g","t":16.9,"s":0.811,"c":1},{"p":9,"g":"g","t":17.4,"s":0.811,"c":1},{"p":9,"g":"g","t":17.9,"s":0.811,"c":1},{"p":9,"g":"g","t":18.3,"s":0.766,"c":0},{"p":9,"g":"g","t":19.3,"s":0.766,"c":1},{"p":9,"g":"g","t":20.9,"s":0.766,"c":1},{"p":9,"g":"g","t":22.5,"s":0.766,"c":1},{"p":9,"g":"g","t":23.3,"s":0.707,"c":0},{"p":9,"g":"g","t":23.8,"s":0.648,"c":0},{"p":9,"g":"g","t":25.7,"s":0.588,"c":0},{"p":9,"g":"g","t":26.7,"s":0.588,"c":1},{"p":9,"g":"g","t":27.3,"s":0.588,"c":1},{"p":9,"g":"g","t":31.3,"s":0.588,"c":1},{"p":9,"g":"g","t":32.4,"s":0.466,"c":0},{"p":9,"g":"g","t":35.1,"s":0.466,"c":1},{"p":9,"g":"g","t":35.6,"s":0.466,"c":1}
],
"txt": [
{"p":1,"k":"lr","t":62.0,"s":0.985,"txt":"Log-rank, p<0.001"},
{"p":1,"k":"lab","t":20.1,"s":0.629,"txt":"PSA nadir≤3.2ng/mL"},
{"p":1,"k":"lab","t":12.2,"s":0.214,"txt":"PSA nadir>3.2ng/mL"},
{"p":2,"k":"lr","t":64.4,"s":0.985,"txt":"Log-rank, p<0.001"},
{"p":2,"k":"lab","t":29.9,"s":0.646,"txt":"PSA nadir≤3.2ng/mL"},
{"p":2,"k":"lab","t":21.3,"s":0.168,"txt":"PSA nadir>3.2ng/mL"},
{"p":3,"k":"lr","t":71.5,"s":0.976,"txt":"Log-rank, p<0.001"},
{"p":3,"k":"lab","t":31.5,"s":0.744,"txt":"PSA nadir≤3.2ng/mL"},
{"p":3,"k":"lab","t":36.2,"s":0.262,"txt":"PSA nadir>3.2ng/mL"},
{"p":4,"k":"lr","t":60.9,"s":0.97,"txt":"Log-rank, p<0.001"},
{"p":4,"k":"lab","t":20.4,"s":0.56,"txt":"Time to PSA nadir>3.4mo."},
{"p":4,"k":"lab","t":10.5,"s":0.238,"txt":"Time to PSA Nadir≤3.4mo."},
{"p":5,"k":"lr","t":70.0,"s":0.974,"txt":"Log-rank, p<0.001"},
{"p":5,"k":"lab","t":23.0,"s":0.615,"txt":"Time to PSA nadir>3.4mo."},
{"p":5,"k":"lab","t":19.5,"s":0.247,"txt":"Time to PSA Nadir≤3.4mo."},
{"p":6,"k":"lr","t":70.6,"s":0.974,"txt":"Log-rank, p<0.001"},
{"p":6,"k":"lab","t":31.8,"s":0.715,"txt":"Time to PSA nadir>3.4mo."},
{"p":6,"k":"lab","t":25.8,"s":0.427,"txt":"Time to PSA Nadir≤3.4mo."},
{"p":7,"k":"lr","t":61.2,"s":0.964,"txt":"Log-rank, p=0.017"},
{"p":7,"k":"lab","t":19.5,"s":0.61,"txt":"Velocity of PSA"},
{"p":7,"k":"lab","t":19.5,"s":0.532,"txt":"decline≤3.9ng/mL/mo."},
{"p":7,"k":"lab","t":0.8,"s":0.223,"txt":"Velocity of PSA"},
{"p":7,"k":"lab","t":0.8,"s":0.146,"txt":"decline>3.9ng/mL/mo."},
{"p":8,"k":"lr","t":71.0,"s":0.959,"txt":"Log-rank, p=0.027"},
{"p":8,"k":"lab","t":24.7,"s":0.59,"txt":"Velocity of PSA"},
{"p":8,"k":"lab","t":24.7,"s":0.512,"txt":"decline≤3.9ng/mL/mo."},
{"p":8,"k":"lab","t":17.3,"s":0.236,"txt":"Velocity of PSA"},
{"p":8,"k":"lab","t":17.3,"s":0.159,"txt":"decline>3.9ng/mL/mo."},
{"p":9,"k":"lr","t":71.0,"s":0.961,"txt":"Log-rank, p=0.984"},
{"p":9,"k":"lab","t":32.8,"s":0.75,"txt":"Velocity of PSA"},
{"p":9,"k":"lab","t":32.8,"s":0.672,"txt":"decline≤3.9ng/mL/mo."},
{"p":9,"k":"lab","t":10.4,"s":0.403,"txt":"Velocity of PSA"},
{"p":9,"k":"lab","t":10.4,"s":0.325,"txt":"decline>3.9ng/mL/mo."}
]
},
"spacing": 115,
"resolve": {"scale": {"x": "independent", "y": "independent"}},
"vconcat": [
{"hconcat": [
 {"title": "PSA Progression", "width": 766, "height": 615, "data": {"name": "km"},
  "encoding": {"x": {"field": "t", "type": "quantitative", "scale": {"domain": [-3.4, 62.5], "nice": false, "zero": false}, "axis": {"values": [0,10,20,30,40,50,60], "labelExpr": "datum.value == 0 ? '.0' : format(datum.value, '.1f')", "title": "months"}},
               "y": {"field": "s", "type": "quantitative", "scale": {"domain": [-0.055, 1.055], "nice": false, "zero": false}, "axis": {"values": [0,0.2,0.4,0.6,0.8,1], "format": ".1f", "title": null}}},
  "layer": [
   {"transform": [{"filter": "datum.p == 1"}], "mark": {"type": "line"}, "encoding": {"color": {"field": "g", "type": "nominal", "scale": {"domain": ["b","g"], "range": ["#3b4d91","#3aa843"]}, "legend": null}}},
   {"transform": [{"filter": "datum.p == 1 && datum.c == 1"}], "mark": {"type": "tick"}, "encoding": {"color": {"field": "g", "type": "nominal", "legend": null}}},
   {"data": {"name": "txt"}, "transform": [{"filter": "datum.p == 1 && datum.k == 'lr'"}], "mark": {"type": "text", "align": "right"}, "encoding": {"text": {"field": "txt"}}},
   {"data": {"name": "txt"}, "transform": [{"filter": "datum.p == 1 && datum.k == 'lab'"}], "mark": {"type": "text", "align": "left"}, "encoding": {"text": {"field": "txt"}}}
  ]},
 {"title": "Radiographic Progression", "width": 726, "height": 615, "data": {"name": "km"},
  "encoding": {"x": {"field": "t", "type": "quantitative", "scale": {"domain": [-3.9, 68.8], "nice": false, "zero": false}, "axis": {"values": [0,20,40,60], "labelExpr": "datum.value == 0 ? '.0' : format(datum.value, '.1f')", "title": "months"}},
               "y": {"field": "s", "type": "quantitative", "scale": {"domain": [-0.055, 1.055], "nice": false, "zero": false}, "axis": {"values": [0,0.2,0.4,0.6,0.8,1], "format": ".1f", "title": null}}},
  "layer": [
   {"transform": [{"filter": "datum.p == 2"}], "mark": {"type": "line"}, "encoding": {"color": {"field": "g", "type": "nominal", "scale": {"domain": ["b","g"], "range": ["#3b4d91","#3aa843"]}, "legend": null}}},
   {"transform": [{"filter": "datum.p == 2 && datum.c == 1"}], "mark": {"type": "tick"}, "encoding": {"color": {"field": "g", "type": "nominal", "legend": null}}},
   {"data": {"name": "txt"}, "transform": [{"filter": "datum.p == 2 && datum.k == 'lr'"}], "mark": {"type": "text", "align": "right"}, "encoding": {"text": {"field": "txt"}}},
   {"data": {"name": "txt"}, "transform": [{"filter": "datum.p == 2 && datum.k == 'lab'"}], "mark": {"type": "text", "align": "left"}, "encoding": {"text": {"field": "txt"}}}
  ]},
 {"title": "Overall Survival", "width": 726, "height": 615, "data": {"name": "km"},
  "encoding": {"x": {"field": "t", "type": "quantitative", "scale": {"domain": [-4.05, 74], "nice": false, "zero": false}, "axis": {"values": [0,20,40,60], "labelExpr": "datum.value == 0 ? '.0' : format(datum.value, '.1f')", "title": "months"}},
               "y": {"field": "s", "type": "quantitative", "scale": {"domain": [-0.055, 1.055], "nice": false, "zero": false}, "axis": {"values": [0,0.2,0.4,0.6,0.8,1], "format": ".1f", "title": null}}},
  "layer": [
   {"transform": [{"filter": "datum.p == 3"}], "mark": {"type": "line"}, "encoding": {"color": {"field": "g", "type": "nominal", "scale": {"domain": ["b","g"], "range": ["#3b4d91","#3aa843"]}, "legend": null}}},
   {"transform": [{"filter": "datum.p == 3 && datum.c == 1"}], "mark": {"type": "tick"}, "encoding": {"color": {"field": "g", "type": "nominal", "legend": null}}},
   {"data": {"name": "txt"}, "transform": [{"filter": "datum.p == 3 && datum.k == 'lr'"}], "mark": {"type": "text", "align": "right"}, "encoding": {"text": {"field": "txt"}}},
   {"data": {"name": "txt"}, "transform": [{"filter": "datum.p == 3 && datum.k == 'lab'"}], "mark": {"type": "text", "align": "left"}, "encoding": {"text": {"field": "txt"}}}
  ]}
 ], "spacing": 11, "resolve": {"scale": {"x": "independent", "y": "independent"}}},
{"hconcat": [
 {"title": "PSA Progression", "width": 723, "height": 600, "data": {"name": "km"},
  "encoding": {"x": {"field": "t", "type": "quantitative", "scale": {"domain": [-3.4, 61.1], "nice": false, "zero": false}, "axis": {"values": [0,10,20,30,40,50,60], "labelExpr": "datum.value == 0 ? '.0' : format(datum.value, '.1f')", "title": "months"}},
               "y": {"field": "s", "type": "quantitative", "scale": {"domain": [-0.055, 1.055], "nice": false, "zero": false}, "axis": {"values": [0,0.2,0.4,0.6,0.8,1], "format": ".1f", "title": null}}},
  "layer": [
   {"transform": [{"filter": "datum.p == 4"}], "mark": {"type": "line"}, "encoding": {"color": {"field": "g", "type": "nominal", "scale": {"domain": ["b","g"], "range": ["#3b4d91","#3aa843"]}, "legend": null}}},
   {"transform": [{"filter": "datum.p == 4 && datum.c == 1"}], "mark": {"type": "tick"}, "encoding": {"color": {"field": "g", "type": "nominal", "legend": null}}},
   {"data": {"name": "txt"}, "transform": [{"filter": "datum.p == 4 && datum.k == 'lr'"}], "mark": {"type": "text", "align": "right"}, "encoding": {"text": {"field": "txt"}}},
   {"data": {"name": "txt"}, "transform": [{"filter": "datum.p == 4 && datum.k == 'lab'"}], "mark": {"type": "text", "align": "left"}, "encoding": {"text": {"field": "txt"}}}
  ]},
 {"title": "Radiographic Progression", "width": 736, "height": 600, "data": {"name": "km"},
  "encoding": {"x": {"field": "t", "type": "quantitative", "scale": {"domain": [-3.9, 71.9], "nice": false, "zero": false}, "axis": {"values": [0,20,40,60], "labelExpr": "datum.value == 0 ? '.0' : format(datum.value, '.1f')", "title": "months"}},
               "y": {"field": "s", "type": "quantitative", "scale": {"domain": [-0.055, 1.055], "nice": false, "zero": false}, "axis": {"values": [0,0.2,0.4,0.6,0.8,1], "format": ".1f", "title": null}}},
  "layer": [
   {"transform": [{"filter": "datum.p == 5"}], "mark": {"type": "line"}, "encoding": {"color": {"field": "g", "type": "nominal", "scale": {"domain": ["b","g"], "range": ["#3b4d91","#3aa843"]}, "legend": null}}},
   {"transform": [{"filter": "datum.p == 5 && datum.c == 1"}], "mark": {"type": "tick"}, "encoding": {"color": {"field": "g", "type": "nominal", "legend": null}}},
   {"data": {"name": "txt"}, "transform": [{"filter": "datum.p == 5 && datum.k == 'lr'"}], "mark": {"type": "text", "align": "right"}, "encoding": {"text": {"field": "txt"}}},
   {"data": {"name": "txt"}, "transform": [{"filter": "datum.p == 5 && datum.k == 'lab'"}], "mark": {"type": "text", "align": "left"}, "encoding": {"text": {"field": "txt"}}}
  ]},
 {"title": "Overall Survival", "width": 757, "height": 600, "data": {"name": "km"},
  "encoding": {"x": {"field": "t", "type": "quantitative", "scale": {"domain": [-4.0, 74.1], "nice": false, "zero": false}, "axis": {"values": [0,20,40,60], "labelExpr": "datum.value == 0 ? '.0' : format(datum.value, '.1f')", "title": "months"}},
               "y": {"field": "s", "type": "quantitative", "scale": {"domain": [-0.055, 1.055], "nice": false, "zero": false}, "axis": {"values": [0,0.2,0.4,0.6,0.8,1], "format": ".1f", "title": null}}},
  "layer": [
   {"transform": [{"filter": "datum.p == 6"}], "mark": {"type": "line"}, "encoding": {"color": {"field": "g", "type": "nominal", "scale": {"domain": ["b","g"], "range": ["#3b4d91","#3aa843"]}, "legend": null}}},
   {"transform": [{"filter": "datum.p == 6 && datum.c == 1"}], "mark": {"type": "tick"}, "encoding": {"color": {"field": "g", "type": "nominal", "legend": null}}},
   {"data": {"name": "txt"}, "transform": [{"filter": "datum.p == 6 && datum.k == 'lr'"}], "mark": {"type": "text", "align": "right"}, "encoding": {"text": {"field": "txt"}}},
   {"data": {"name": "txt"}, "transform": [{"filter": "datum.p == 6 && datum.k == 'lab'"}], "mark": {"type": "text", "align": "left"}, "encoding": {"text": {"field": "txt"}}}
  ]}
 ], "spacing": 11, "resolve": {"scale": {"x": "independent", "y": "independent"}}},
{"hconcat": [
 {"title": "PSA Progression", "width": 735, "height": 590, "data": {"name": "km"},
  "encoding": {"x": {"field": "t", "type": "quantitative", "scale": {"domain": [-3.4, 62.6], "nice": false, "zero": false}, "axis": {"values": [0,10,20,30,40,50,60], "labelExpr": "datum.value == 0 ? '.0' : format(datum.value, '.1f')", "title": "months"}},
               "y": {"field": "s", "type": "quantitative", "scale": {"domain": [-0.055, 1.055], "nice": false, "zero": false}, "axis": {"values": [0,0.2,0.4,0.6,0.8,1], "format": ".1f", "title": null}}},
  "layer": [
   {"transform": [{"filter": "datum.p == 7"}], "mark": {"type": "line"}, "encoding": {"color": {"field": "g", "type": "nominal", "scale": {"domain": ["b","g"], "range": ["#3b4d91","#3aa843"]}, "legend": null}}},
   {"transform": [{"filter": "datum.p == 7 && datum.c == 1"}], "mark": {"type": "tick"}, "encoding": {"color": {"field": "g", "type": "nominal", "legend": null}}},
   {"data": {"name": "txt"}, "transform": [{"filter": "datum.p == 7 && datum.k == 'lr'"}], "mark": {"type": "text", "align": "right"}, "encoding": {"text": {"field": "txt"}}},
   {"data": {"name": "txt"}, "transform": [{"filter": "datum.p == 7 && datum.k == 'lab'"}], "mark": {"type": "text", "align": "left"}, "encoding": {"text": {"field": "txt"}}}
  ]},
 {"title": "Radiographic Progression", "width": 729, "height": 590, "data": {"name": "km"},
  "encoding": {"x": {"field": "t", "type": "quantitative", "scale": {"domain": [-4.0, 72.3], "nice": false, "zero": false}, "axis": {"values": [0,20,40,60], "labelExpr": "datum.value == 0 ? '.0' : format(datum.value, '.1f')", "title": "months"}},
               "y": {"field": "s", "type": "quantitative", "scale": {"domain": [-0.055, 1.055], "nice": false, "zero": false}, "axis": {"values": [0,0.2,0.4,0.6,0.8,1], "format": ".1f", "title": null}}},
  "layer": [
   {"transform": [{"filter": "datum.p == 8"}], "mark": {"type": "line"}, "encoding": {"color": {"field": "g", "type": "nominal", "scale": {"domain": ["b","g"], "range": ["#3b4d91","#3aa843"]}, "legend": null}}},
   {"transform": [{"filter": "datum.p == 8 && datum.c == 1"}], "mark": {"type": "tick"}, "encoding": {"color": {"field": "g", "type": "nominal", "legend": null}}},
   {"data": {"name": "txt"}, "transform": [{"filter": "datum.p == 8 && datum.k == 'lr'"}], "mark": {"type": "text", "align": "right"}, "encoding": {"text": {"field": "txt"}}},
   {"data": {"name": "txt"}, "transform": [{"filter": "datum.p == 8 && datum.k == 'lab'"}], "mark": {"type": "text", "align": "left"}, "encoding": {"text": {"field": "txt"}}}
  ]},
 {"title": "Overall Survival", "width": 748, "height": 590, "data": {"name": "km"},
  "encoding": {"x": {"field": "t", "type": "quantitative", "scale": {"domain": [-3.9, 73.8], "nice": false, "zero": false}, "axis": {"values": [0,20,40,60], "labelExpr": "datum.value == 0 ? '.0' : format(datum.value, '.1f')", "title": "months"}},
               "y": {"field": "s", "type": "quantitative", "scale": {"domain": [-0.055, 1.055], "nice": false, "zero": false}, "axis": {"values": [0,0.2,0.4,0.6,0.8,1], "format": ".1f", "title": null}}},
  "layer": [
   {"transform": [{"filter": "datum.p == 9"}], "mark": {"type": "line"}, "encoding": {"color": {"field": "g", "type": "nominal", "scale": {"domain": ["b","g"], "range": ["#3b4d91","#3aa843"]}, "legend": null}}},
   {"transform": [{"filter": "datum.p == 9 && datum.c == 1"}], "mark": {"type": "tick"}, "encoding": {"color": {"field": "g", "type": "nominal", "legend": null}}},
   {"data": {"name": "txt"}, "transform": [{"filter": "datum.p == 9 && datum.k == 'lr'"}], "mark": {"type": "text", "align": "right"}, "encoding": {"text": {"field": "txt"}}},
   {"data": {"name": "txt"}, "transform": [{"filter": "datum.p == 9 && datum.k == 'lab'"}], "mark": {"type": "text", "align": "left"}, "encoding": {"text": {"field": "txt"}}}
  ]}
 ], "spacing": 11, "resolve": {"scale": {"x": "independent", "y": "independent"}}}
]
}
